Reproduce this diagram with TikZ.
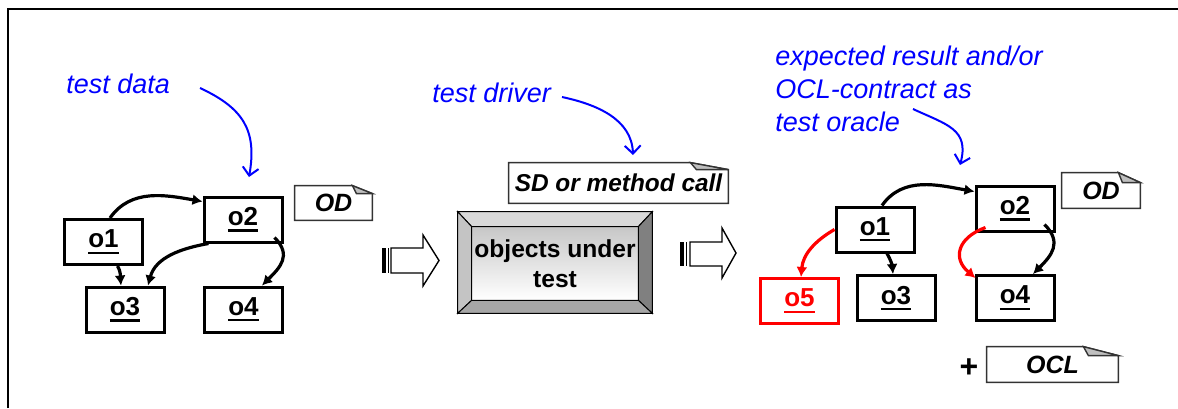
\documentclass[tikz,border=0pt]{standalone}
\usepackage{fontspec}
\setmainfont{Liberation Sans}
\usetikzlibrary{arrows.meta,calc,positioning}
\newcommand{\uname}[1]{\setbox0\hbox{#1}\rlap{\rule[-3pt]{\wd0}{1.1pt}}\box0}
\tikzset{
  obj/.style={rectangle,draw,line width=1.5pt,minimum width=39pt,minimum height=22.5pt,font=\fontsize{13}{15}\selectfont\bfseries},
  newobj/.style={obj,draw=red,text=red},
  link/.style={-{Latex[length=5pt,width=5.5pt]},line width=1.6pt},
  newlink/.style={link,draw=red},
  hint/.style={blue,inner sep=0pt,font=\fontsize{13.5}{16.5}\selectfont\itshape},
  hintarrow/.style={blue,line width=1pt,-{Straight Barb[length=4pt,width=8pt]}},
  note/.style={rectangle,inner sep=0pt,font=\fontsize{12.5}{14}\selectfont\bfseries\itshape},
  notefrm/.style={draw=black!80,line width=0.7pt},
  bevel/.style={draw,line width=0.5pt}
}
\begin{document}
\begin{tikzpicture}[x=0.5pt,y=-0.5pt]
\useasboundingbox (0,0) rectangle (1178,408);
\draw[line width=1pt] (8,408) -- (8,9) -- (1178,9);

% test data: object diagram
\draw (66,93)node[hint,anchor=base west](tdata){test data};
\coordinate (td1) at (200,88);
\coordinate (td2) at (249,177);
\draw[hintarrow] (td1) to[out=-25,in=80,looseness=1.2] (td2);
\draw (103.5,242)node[obj](lo1){\uname{o1}};
\draw (243,219.5)node[obj](lo2){\uname{o2}};
\draw (125,309.5)node[obj](lo3){\uname{o3}};
\draw (243.5,309.5)node[obj](lo4){\uname{o4}};
\draw[link] ([xshift=3.25pt]lo1.north) to[out=55,in=170] ([yshift=-3pt]lo2.north west);
\draw[link] ([xshift=7pt]lo1.south) to[out=-60,in=95] ([xshift=-2pt]lo3.north);
\draw[link] ([xshift=3pt]lo2.south west) to[out=190,in=75] ([xshift=11.5pt]lo3.north);
\draw[link] ([xshift=-4.5pt,yshift=3pt]lo2.south east) to[out=-45,in=45,looseness=1.3] ([xshift=9.25pt]lo4.north);
\draw (333.5,203)node[note,minimum width=38.5pt,minimum height=17pt](lod){OD};
\draw[notefrm] (lod.south west) -- (lod.north west) -- ([xshift=-10pt]lod.north east) -- ([yshift=-4pt]lod.north east) -- (lod.south east) -- cycle;
\filldraw[notefrm,fill=gray!50] ([xshift=-10pt]lod.north east) -- ([yshift=-4pt]lod.north east) -- ([xshift=-8pt,yshift=-4pt]lod.north east) -- cycle;

% left block arrow
\fill (382,248) rectangle (386,273);
\draw[line width=0.6pt] (388.5,248) -- (388.5,273);
\draw[line width=0.7pt] (391,248) -- (423,248) -- (423,235) -- (439,260.5) -- (423,286) -- (423,273) -- (391,273) -- cycle;

% test driver
\draw (432,102)node[hint,anchor=base west](tdrv){test driver};
\coordinate (tv1) at (562,97);
\coordinate (tv2) at (633,155);
\draw[hintarrow] (tv1) to[out=-12,in=92] (tv2);
\draw (618.5,183)node[note,minimum width=109.5pt,minimum height=20pt,font=\fontsize{12.2}{14}\selectfont\bfseries\itshape](sd){SD or method call};
\draw[notefrm] (sd.south west) -- (sd.north west) -- ([xshift=-19pt]sd.north east) -- ([yshift=-3.5pt]sd.north east) -- (sd.south east) -- cycle;
\filldraw[notefrm,fill=gray!50] ([xshift=-19pt]sd.north east) -- ([yshift=-3.5pt]sd.north east) -- ([xshift=-16pt,yshift=-3.5pt]sd.north east) -- cycle;

% objects under test
\draw (555,263.5)node[rectangle,inner sep=0.5pt,minimum width=83pt,minimum height=36.5pt,top color=black!22,bottom color=white,align=center,font=\fontsize{12.3}{15}\selectfont\bfseries](out){objects under\\test};
\filldraw[bevel,fill=black!15] ($(out.north west)+(-7pt,7.5pt)$) -- ($(out.north east)+(7pt,7.5pt)$) -- (out.north east) -- (out.north west) -- cycle;
\filldraw[bevel,fill=black!23] ($(out.north west)+(-7pt,7.5pt)$) -- (out.north west) -- (out.south west) -- ($(out.south west)+(-7pt,-6.5pt)$) -- cycle;
\filldraw[bevel,fill=black!50] ($(out.north east)+(7pt,7.5pt)$) -- ($(out.south east)+(7pt,-6.5pt)$) -- (out.south east) -- (out.north east) -- cycle;
\filldraw[bevel,fill=black!35] ($(out.south west)+(-7pt,-6.5pt)$) -- ($(out.south east)+(7pt,-6.5pt)$) -- (out.south east) -- (out.south west) -- cycle;
\draw[bevel] (out.south west) rectangle (out.north east);

% right block arrow
\fill (680,242) rectangle (684,266);
\draw[line width=0.6pt] (686.5,242) -- (686.5,266);
\draw[line width=0.7pt] (690,242) -- (722,242) -- (722,228) -- (736,253) -- (722,278) -- (722,266) -- (690,266) -- cycle;

% test oracle: expected object diagram
\draw (775,46)node[hint,anchor=north west,align=left](orac){expected result and/or\\OCL-contract as\\test oracle};
\coordinate (to1) at (913,109);
\coordinate (to2) at (960,165);
\draw[hintarrow] (to1) to[out=-25,in=75,looseness=1.3] (to2);
\draw (875,229.5)node[obj](ro1){\uname{o1}};
\draw (1015,208.5)node[obj](ro2){\uname{o2}};
\draw (799.5,301)node[newobj](ro5){\uname{o5}};
\draw (896,298)node[obj](ro3){\uname{o3}};
\draw (1015,298)node[obj](ro4){\uname{o4}};
\draw[link] ([xshift=3.5pt]ro1.north) to[out=55,in=170] ([yshift=-3.5pt]ro2.north west);
\draw[link] ([xshift=6pt]ro1.south) to[out=-60,in=95] ([xshift=-1.5pt]ro3.north);
\draw[newlink] (ro1.west) to[out=210,in=85] ([xshift=0.75pt]ro5.north);
\draw[newlink] ([xshift=5.5pt,yshift=2.5pt]ro2.south west) to[out=200,in=140,looseness=1.5] ([xshift=0.5pt,yshift=-2pt]ro4.north west);
\draw[link] ([xshift=-5.5pt,yshift=4pt]ro2.south east) to[out=-45,in=45,looseness=1.3] ([xshift=9pt]ro4.north);
\draw (1101,190.5)node[note,minimum width=39pt,minimum height=17.5pt](rod){OD};
\draw[notefrm] (rod.south west) -- (rod.north west) -- ([xshift=-11pt]rod.north east) -- ([yshift=-5pt]rod.north east) -- (rod.south east) -- cycle;
\filldraw[notefrm,fill=gray!50] ([xshift=-11pt]rod.north east) -- ([yshift=-5pt]rod.north east) -- ([xshift=-9pt,yshift=-5pt]rod.north east) -- cycle;
\draw (969,368)node[font=\fontsize{16}{16}\selectfont\bfseries](plus){+};
\draw (1052.5,364.5)node[note,minimum width=65.5pt,minimum height=17.5pt](ocl){OCL};
\draw[notefrm] (ocl.south west) -- (ocl.north west) -- ([xshift=-17.5pt]ocl.north east) -- ([yshift=-4.5pt]ocl.north east) -- (ocl.south east) -- cycle;
\filldraw[notefrm,fill=gray!50] ([xshift=-17.5pt]ocl.north east) -- ([yshift=-4.5pt]ocl.north east) -- ([xshift=-15pt,yshift=-4.5pt]ocl.north east) -- cycle;
\end{tikzpicture}
\end{document}
